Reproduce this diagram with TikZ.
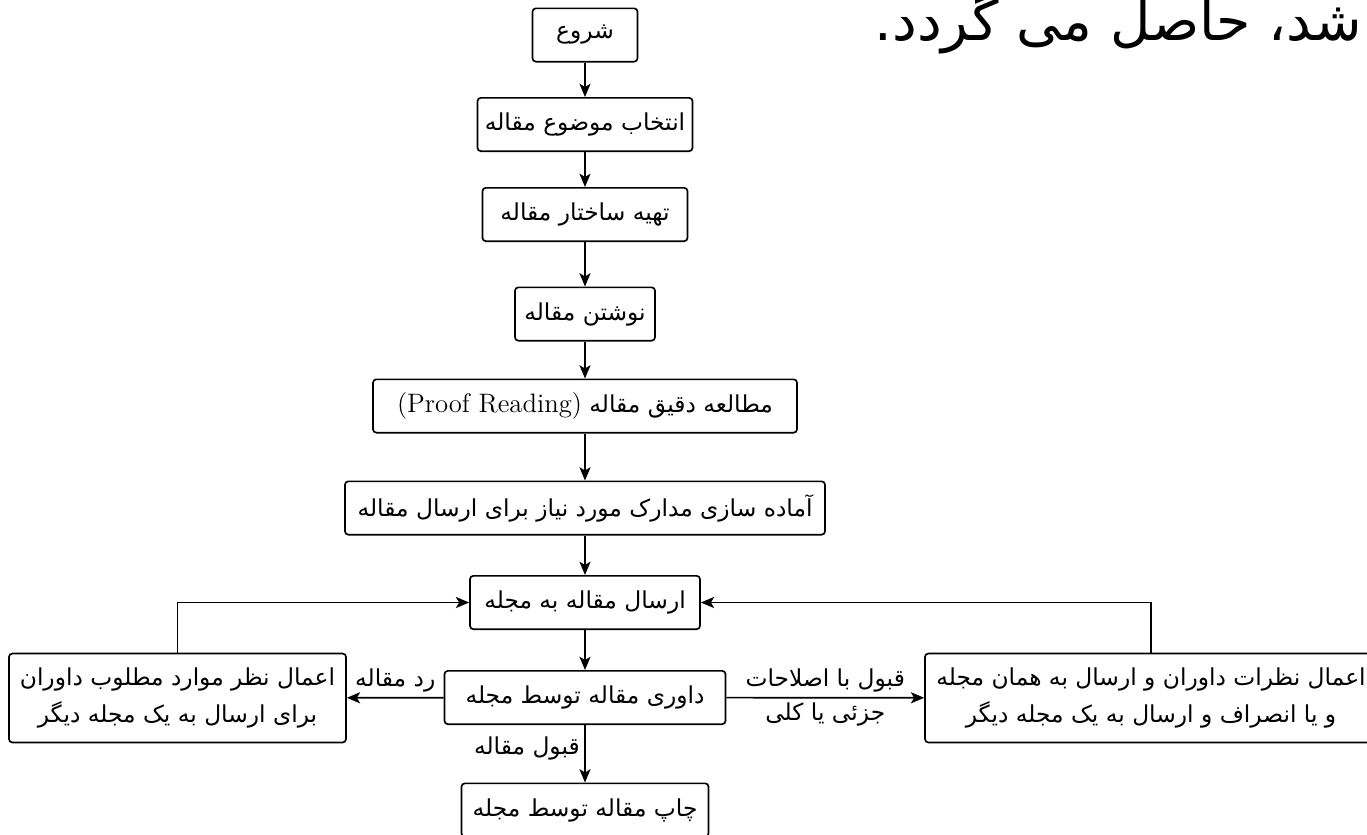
\documentclass[tikz,border=0pt]{standalone}
\usepackage{fontspec}
\usetikzlibrary{arrows.meta}
\newfontfamily\arabicfont[Script=Arabic]{DejaVu Sans}
\TeXXeTstate=1
\newcommand{\fatext}[1]{{\arabicfont\beginR #1\endR}}
\begin{document}
\begin{tikzpicture}[x=0.45pt,y=-0.45pt,
  box/.style={draw,rounded corners=1.5pt,line width=0.75pt,minimum height=24pt,inner xsep=3pt,align=center,font=\fontsize{10.5}{17}\selectfont},
  arr/.style={-{Stealth[length=6pt,width=5pt,inset=1.5pt]},line width=0.75pt},
  lbl/.style={inner sep=2pt,font=\fontsize{10.5}{17}\selectfont}]
\useasboundingbox (0,0) rectangle (1367,834);
\node[anchor=base east,font=\fontsize{25}{30}\selectfont] (tail) at (1370,40) {\fatext{شد، حاصل می گردد.}};
\node[box,minimum width=105*0.45pt] (start) at (585,35) {\fatext{شروع}};
\node[box,minimum width=215*0.45pt] (topic) at (585,124.5) {\fatext{انتخاب موضوع مقاله}};
\node[box,minimum width=205*0.45pt] (outline) at (585,214.5) {\fatext{تهیه ساختار مقاله}};
\node[box,minimum width=140*0.45pt] (write) at (585,314) {\fatext{نوشتن مقاله}};
\node[box,minimum width=424*0.45pt] (proof) at (585,406) {\fatext{مطالعه دقیق مقاله \beginL{\normalfont\fontsize{12}{17}\selectfont(Proof Reading)}\endL}};
\node[box,minimum width=480*0.45pt] (prep) at (585,508) {\fatext{آماده سازی مدارک مورد نیاز برای ارسال مقاله}};
\node[box,minimum width=230*0.45pt] (submit) at (585,602.5) {\fatext{ارسال مقاله به مجله}};
\node[box,minimum width=281*0.45pt] (review) at (585,697.5) {\fatext{داوری مقاله توسط مجله}};
\node[box,minimum width=247*0.45pt] (publish) at (585,810) {\fatext{چاپ مقاله توسط مجله}};
\node[box,minimum width=337*0.45pt,minimum height=40pt] (reject) at (177.5,698) {\fatext{اعمال نظر موارد مطلوب داوران}\\\fatext{برای ارسال به یک مجله دیگر}};
\node[box,minimum width=452*0.45pt,minimum height=40pt] (revise) at (1151,698) {\fatext{اعمال نظرات داوران و ارسال به همان مجله}\\\fatext{و یا انصراف و ارسال به یک مجله دیگر}};
\draw[arr] (start) -- (topic);
\draw[arr] (topic) -- (outline);
\draw[arr] (outline) -- (write);
\draw[arr] (write) -- (proof);
\draw[arr] (proof) -- (prep);
\draw[arr] (prep) -- (submit);
\draw[arr] (submit) -- (review);
\draw[arr] (review) -- node[lbl,left,pos=0.4] {\fatext{قبول مقاله}} (publish);
\draw[arr] (review) -- node[lbl,above] {\fatext{رد مقاله}} (reject);
\draw[arr] (review) -- node[lbl,above] {\fatext{قبول با اصلاحات}} node[lbl,below] {\fatext{جزئی یا کلی}} (revise);
\draw[arr] (reject.north) |- (submit.west);
\draw[arr] (revise.north) |- (submit.east);
\end{tikzpicture}
\end{document}
